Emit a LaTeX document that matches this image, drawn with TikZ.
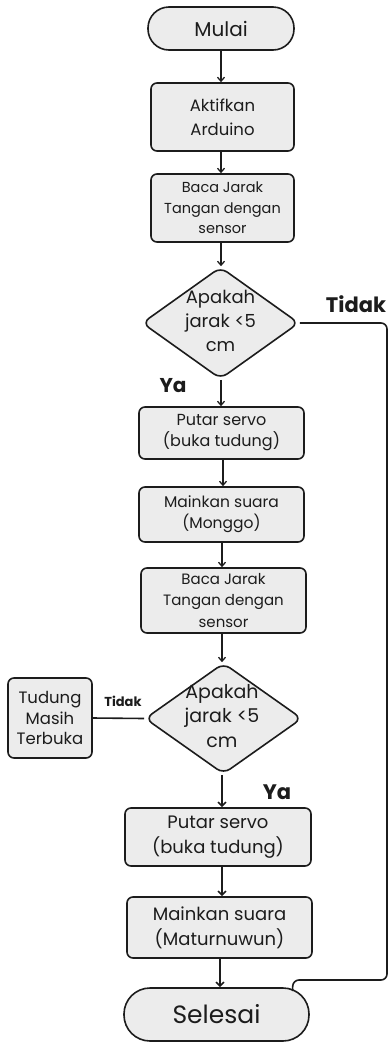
\documentclass[tikz,border=0pt]{standalone}
\usepackage{fontspec}
\setmainfont{Poppins}
\usetikzlibrary{shapes.geometric,arrows.meta}
\definecolor{boxfill}{HTML}{ECECEC}
\definecolor{ink}{HTML}{1C1C1C}
\begin{document}
\begin{tikzpicture}[x=1pt,y=-1pt,
  box/.style={draw=ink,fill=boxfill,line width=1.6pt,rounded corners=6pt,
    align=center,inner sep=0pt,text=ink},
  term/.style={box,rounded corners=21pt},
  dia/.style={draw=ink,fill=boxfill,line width=1.6pt,diamond,rounded corners=8pt,inner sep=0pt},
  dtext/.style={align=center,inner sep=0pt,text=ink},
  arr/.style={draw=ink,line width=1.3pt,-{Straight Barb[length=4pt,width=7pt,line width=1.3pt]}},
  arrb/.style={draw=ink,line width=1.9pt,-{Straight Barb[length=4pt,width=8pt,line width=1.6pt]}},
  conn/.style={draw=ink,line width=1.6pt},
  lbl/.style={font=\bfseries,text=ink,inner sep=0pt}
]
\fill[white] (0,0) rectangle (388,1042);
\useasboundingbox (0,0) rectangle (388,1042);

\node[term,minimum width=146pt,minimum height=43pt,font=\fontsize{20}{24}\selectfont] (mulai) at (221,28.5) {Mulai};
\node[box,minimum width=143pt,minimum height=68pt,font=\fontsize{16.5}{24}\selectfont] (aktif) at (222.5,117) {Aktifkan\\Arduino};
\node[box,minimum width=143pt,minimum height=68pt,font=\fontsize{14.5}{20.5}\selectfont] (baca1) at (222.5,208) {Baca Jarak\\Tangan dengan\\sensor};
\node[dia,minimum width=157pt,minimum height=112pt] (d1) at (220.5,323) {};
\node[dtext,font=\fontsize{18}{24.3}\selectfont] (d1t) at (220.5,321) {Apakah\\jarak <5\\cm};
\node[box,minimum width=165pt,minimum height=52pt,font=\fontsize{16}{21}\selectfont] (putar1) at (221.5,433) {Putar servo\\(buka tudung)};
\node[box,minimum width=165pt,minimum height=55pt,font=\fontsize{15.5}{21}\selectfont] (main1) at (221.5,514.5) {Mainkan suara\\(Monggo)};
\node[box,minimum width=165pt,minimum height=65pt,font=\fontsize{15}{21.5}\selectfont] (baca2) at (223.5,600.5) {Baca Jarak\\Tangan dengan\\sensor};
\node[dia,minimum width=157pt,minimum height=111pt] (d2) at (223.5,718.5) {};
\node[dtext,font=\fontsize{19}{24.5}\selectfont] (d2t) at (222,716) {Apakah\\jarak <5\\cm};
\node[box,minimum width=84pt,minimum height=80pt,font=\fontsize{16.5}{20.5}\selectfont] (tudung) at (50,718) {Tudung\\Masih\\Terbuka};
\node[box,minimum width=186pt,minimum height=58pt,font=\fontsize{18}{25}\selectfont] (putar2) at (218,837) {Putar servo\\(buka tudung)};
\node[box,minimum width=185pt,minimum height=61pt,font=\fontsize{18}{25}\selectfont] (main2) at (219.5,927.5) {Mainkan suara\\(Maturnuwun)};
\node[term,minimum width=185pt,minimum height=53pt,rounded corners=26pt,font=\fontsize{25}{30}\selectfont] (selesai) at (216.5,1014.5) {Selesai};

\node[lbl,font=\fontsize{21}{24}\bfseries] (tidak1) at (356,304) {Tidak};
\node[lbl,font=\fontsize{20}{24}\bfseries] (ya1) at (173,386) {Ya};
\node[lbl,font=\fontsize{13}{16}\bfseries] (tidak2) at (123,701) {Tidak};
\node[lbl,font=\fontsize{21}{24}\bfseries] (ya2) at (277,792) {Ya};

\draw[arr] (mulai.south -| 221,0) -- (aktif.north -| 221,0);
\draw[arr] (aktif.south -| 221,0) -- (baca1.north -| 221,0);
\draw[arr] (baca1.south -| 221,0) -- (d1.north -| 221,0);
\draw[arr] (d1.south -| 221,0) -- (putar1.north -| 221,0);
\draw[arr] (putar1.south -| 223,0) -- (main1.north -| 223,0);
\draw[arr] (main1.south -| 222,0) -- (baca2.north -| 222,0);
\draw[arr] (baca2.south -| 222,0) -- (d2.north -| 222,0);
\draw[arrb] (d2.south -| 222,0) -- (putar2.north -| 222,0);
\draw[arrb] (putar2.south -| 222,0) -- (main2.north -| 222,0);
\draw[arrb] (main2.south -| 220,0) -- (selesai.north -| 220,0);
\draw[conn] (tudung.east) -- (d2.west);
\coordinate (tend) at (292.5,991);
\draw[conn,rounded corners=6pt] (d1.east) -- (387,323) -- (387,980) -- (293,980) -- (tend);
\end{tikzpicture}
\end{document}
